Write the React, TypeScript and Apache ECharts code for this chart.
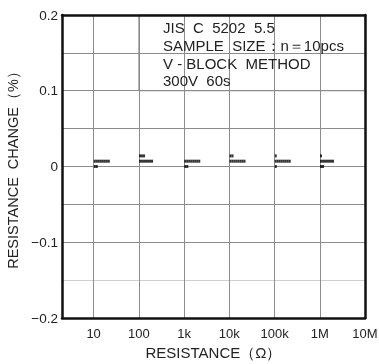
import React, { useEffect, useRef } from "react";
import * as echarts from "echarts";

const resistances = [10, 100, 1000, 10000, 100000, 1000000];
const changes10 = [0.007, 0.007, 0.007, 0.007, 0.007, 0.007, 0.007, 0.007, 0, 0];
const changes100 = [0.014, 0.014, 0.014, 0.007, 0.007, 0.007, 0.007, 0.007, 0.007, 0.007];
const changes1k = [0.007, 0.007, 0.007, 0.007, 0.007, 0.007, 0.007, 0.007, 0, 0];
const changes10k = [0.014, 0.014, 0.007, 0.007, 0.007, 0.007, 0.007, 0.007, 0.007, 0.007];
const changes100k = [0.014, 0.007, 0.007, 0.007, 0.007, 0.007, 0.007, 0.007, 0.007, 0];
const changes1M = [0.014, 0.007, 0.007, 0.007, 0.007, 0.007, 0.007, 0.007, 0, 0];
const allChanges = [changes10, changes100, changes1k, changes10k, changes100k, changes1M];

const xTickLabels: Record<number, string> = {
  1: "10", 2: "100", 3: "1k", 4: "10k", 5: "100k", 6: "1M", 7: "10M",
};
const noteLines = [
  "JIS  C  5202  5.5",
  "SAMPLE  SIZE\uFF1An\uFF1D10pcs",
  "V - BLOCK  METHOD",
  "300V  60s",
];

const FONT = "'Liberation Sans', Arial, Helvetica, sans-serif";

export default function App() {
  const ref = useRef<HTMLDivElement>(null);
  useEffect(() => {
    if (!ref.current) return;
    const chart = echarts.init(ref.current, undefined, { renderer: "svg" });

    const points: any[] = [];
    resistances.forEach((r, i) => {
      const counts: Record<string, number> = {};
      allChanges[i].forEach((v) => {
        const k = String(v);
        const idx = counts[k] || 0;
        counts[k] = idx + 1;
        points.push({ value: [r, v], symbolOffset: [1.2 + idx * 2.0, 0] });
      });
    });

    const gridColor = "#8c8c8c";
    chart.setOption({
      animation: false,
      textStyle: { fontFamily: FONT },
      grid: {
        left: 62,
        right: 14,
        top: 15,
        bottom: 46,
        containLabel: false,
        outerBoundsMode: "none",
      },
      xAxis: [
        {
          type: "log",
          min: 2,
          max: 10000000,
          logBase: 10,
          name: "RESISTANCE\uFF08\u03A9\uFF09",
          nameLocation: "middle",
          nameGap: 27,
          nameTextStyle: { fontSize: 15, color: "#222", fontFamily: FONT },
          axisLine: { show: true, onZero: false, lineStyle: { color: "#111", width: 2.5 } },
          axisTick: { show: false },
          axisLabel: {
            margin: 9,
            fontSize: 13,
            color: "#222",
            fontFamily: FONT,
            showMinLabel: true,
            showMaxLabel: true,
            formatter: (v: number) => {
              const e = Math.log10(v);
              const re = Math.round(e);
              if (Math.abs(e - re) > 1e-6) return "";
              return xTickLabels[re] || "";
            },
          },
          splitLine: { show: true, lineStyle: { color: gridColor, width: 1 } },
          z: 5,
        },
        {
          type: "log",
          min: 2,
          max: 10000000,
          logBase: 10,
          position: "top",
          axisLine: { show: true, onZero: false, lineStyle: { color: "#111", width: 2.5 } },
          axisTick: { show: false },
          axisLabel: { show: false },
          splitLine: { show: false },
          z: 5,
        },
      ],
      yAxis: [
        {
          type: "value",
          min: -0.2,
          max: 0.2,
          interval: 0.05,
          name: "RESISTANCE  CHANGE\uFF08%\uFF09",
          nameLocation: "middle",
          nameGap: 36,
          nameTextStyle: { fontSize: 14.5, color: "#222", fontFamily: FONT },
          axisLine: { show: true, onZero: false, lineStyle: { color: "#111", width: 2.5 } },
          axisTick: { show: false },
          axisLabel: {
            margin: 4,
            fontSize: 13.5,
            color: "#222",
            fontFamily: FONT,
            formatter: (v: number) => {
              const t = v * 10;
              if (Math.abs(t - Math.round(t)) > 1e-6) return "";
              const n = Math.round(t) / 10;
              if (n === 0) return "0";
              return n < 0 ? "\u2212" + Math.abs(n).toFixed(1) : n.toFixed(1);
            },
          },
          splitLine: {
            show: true,
            lineStyle: {
              color: [gridColor, "#cfcfcf", gridColor, gridColor, gridColor, gridColor, gridColor, gridColor, gridColor],
              width: 1,
            },
          },
          z: 5,
        },
        {
          type: "value",
          min: -0.2,
          max: 0.2,
          interval: 0.05,
          position: "right",
          axisLine: { show: true, onZero: false, lineStyle: { color: "#111", width: 2.5 } },
          axisTick: { show: false },
          axisLabel: { show: false },
          splitLine: { show: false },
          z: 5,
        },
      ],
      series: [
        {
          type: "scatter",
          xAxisIndex: 0,
          yAxisIndex: 0,
          data: [],
          markArea: {
            silent: true,
            itemStyle: { color: "#ffffff", borderColor: gridColor, borderWidth: 1 },
            data: [[{ coord: [100, 0.1] }, { coord: [10000000, 0.2] }]],
          },
          z: 3,
        },
        {
          type: "scatter",
          xAxisIndex: 0,
          yAxisIndex: 0,
          symbol: "rect",
          symbolSize: [2, 3],
          itemStyle: { color: "#000000" },
          data: points,
          z: 20,
        },
      ],
      graphic: [
        {
          type: "text",
          x: 163,
          y: 19,
          z: 100,
          style: {
            text: noteLines.join("\n"),
            font: `15px ${FONT}`,
            lineHeight: 17.7,
            fill: "#222",
          },
        },
      ],
    });
    return () => chart.dispose();
  }, []);
  return (
    <div
      ref={ref}
      style={{ position: "fixed", left: 0, top: 0, width: 379, height: 364 }}
    />
  );
}
